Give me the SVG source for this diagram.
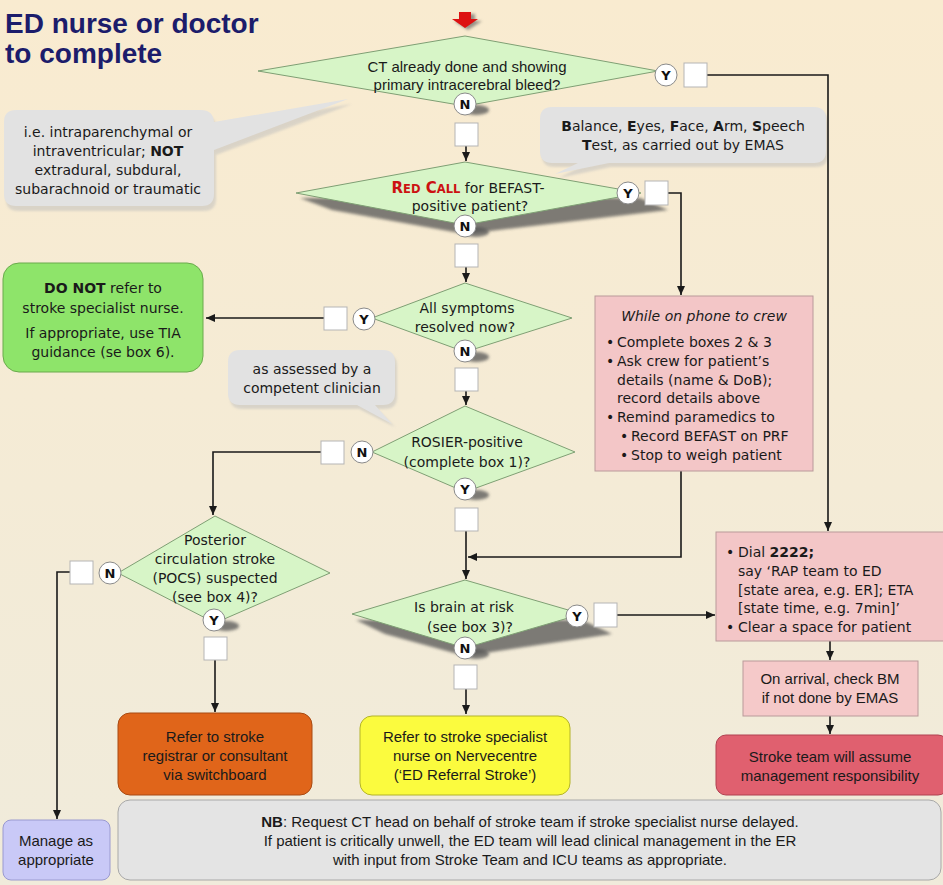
<svg xmlns="http://www.w3.org/2000/svg" width="943" height="885" viewBox="0 0 943 885">
<defs>
<linearGradient id="bg" x1="0" y1="0" x2="0" y2="1">
<stop offset="0" stop-color="#f9ebd0"/>
<stop offset="1" stop-color="#f0ebdb"/>
</linearGradient>
<marker id="ah" viewBox="0 0 9 8" refX="9" refY="4" markerWidth="9" markerHeight="8" markerUnits="userSpaceOnUse" orient="auto">
<path d="M0,0 L9,4 L0,8 z" fill="#1a1a1a"/>
</marker>
<filter id="blur" x="-20%" y="-50%" width="140%" height="200%"><feGaussianBlur stdDeviation="1.5"/></filter>
<filter id="soft" x="-10%" y="-10%" width="120%" height="130%"><feGaussianBlur stdDeviation="1.2"/></filter>
</defs>
<style>
.dia{fill:#d7f5c7;stroke:#7f9f74;stroke-width:1}
.sq{fill:#ffffff;stroke:#b5b5b5;stroke-width:1}
.cir{fill:#ffffff;stroke:#8a8a8a;stroke-width:1}
.yn{font-family:"DejaVu Sans",sans-serif;font-weight:bold;font-size:13px;fill:#111;text-anchor:middle}
.v{font-family:"DejaVu Sans",sans-serif;font-size:14px;fill:#1a1a1a}
.n{font-family:"Liberation Sans",Arial,sans-serif;font-size:15px;fill:#1a1a1a}
.c{text-anchor:middle}
.conn{stroke:#1a1a1a;stroke-width:1.6;fill:none}
.shd{fill:#555;opacity:0.75;filter:url(#blur)}
.call{fill:#e2e2e2}
.callshd{fill:#bdbdbd;opacity:0.5;filter:url(#soft)}
</style>
<rect x="0" y="0" width="943" height="885" fill="url(#bg)"/>

<g id="title">
<text x="5" y="33" font-family="Liberation Sans,Arial,sans-serif" font-weight="bold" font-size="28" fill="#1c1c6b">ED nurse or doctor</text>
<text x="5" y="63" font-family="Liberation Sans,Arial,sans-serif" font-weight="bold" font-size="28" fill="#1c1c6b">to complete</text>
</g>

<g id="start-arrow">
<path d="M461,14 h14 v7 h7 l-14,9 l-14,-9 h7 z" fill="#555" opacity="0.6" filter="url(#blur)"/>
<path d="M459,12 h12 v7 h7 l-13,9 l-13,-9 h7 z" fill="#dd1111"/>
</g>

<g id="callout-bleed">
<path d="M16,112 h185 q12,0 13,12 l0,0 L350,101 L214,152 v44 q0,12 -12,12 h-186 q-12,0 -12,-12 v-72 q0,-12 12,-12 z" class="callshd" transform="translate(2,3)"/>
<path d="M16,110 h185 q12,0 13,12 L348,99 L214,150 v44 q0,12 -12,12 h-186 q-12,0 -12,-12 v-72 q0,-12 12,-12 z" class="call"/>
<text class="v c" x="108" y="137">i.e. intraparenchymal or</text>
<text class="v c" x="108" y="156">intraventricular; <tspan font-weight="bold">NOT</tspan></text>
<text class="v c" x="108" y="175">extradural, subdural,</text>
<text class="v c" x="108" y="194">subarachnoid or traumatic</text>
</g>

<g id="callout-befast">
<path d="M552,109 h262 q12,0 12,12 v32 q0,12 -12,12 h-205 L557,176 L578,165 h-26 q-12,0 -12,-12 v-32 q0,-12 12,-12 z" class="callshd" transform="translate(2,2)"/>
<path d="M552,107 h262 q12,0 12,12 v32 q0,12 -12,12 h-205 L555,174 L578,163 h-26 q-12,0 -12,-12 v-32 q0,-12 12,-12 z" class="call"/>
<text class="v c" x="683" y="131"><tspan font-weight="bold">B</tspan>alance, <tspan font-weight="bold">E</tspan>yes, <tspan font-weight="bold">F</tspan>ace, <tspan font-weight="bold">A</tspan>rm, <tspan font-weight="bold">S</tspan>peech</text>
<text class="v c" x="683" y="150"><tspan font-weight="bold">T</tspan>est, as carried out by EMAS</text>
</g>

<g id="callout-clinician">
<path d="M240,352 h143 q12,0 12,12 v31 q0,12 -12,12 h-8 L393,425 L357,407 h-117 q-12,0 -12,-12 v-31 q0,-12 12,-12 z" class="callshd" transform="translate(2,2)"/>
<path d="M240,350 h143 q12,0 12,12 v31 q0,12 -12,12 h-8 L392,424 L357,405 h-117 q-12,0 -12,-12 v-31 q0,-12 12,-12 z" class="call"/>
<text class="v c" x="312" y="374">as assessed by a</text>
<text class="v c" x="312" y="393">competent clinician</text>
</g>

<g id="connectors">
<line class="conn" x1="466" y1="146" x2="466" y2="161" marker-end="url(#ah)"/>
<polyline class="conn" points="707,75 828,75 828,531" marker-end="url(#ah)"/>
<polyline class="conn" points="668,193 681,193 681,295" marker-end="url(#ah)"/>
<line class="conn" x1="466" y1="267" x2="466" y2="282" marker-end="url(#ah)"/>
<line class="conn" x1="324" y1="318" x2="206" y2="318" marker-end="url(#ah)"/>
<line class="conn" x1="466" y1="391" x2="466" y2="405" marker-end="url(#ah)"/>
<polyline class="conn" points="321,452 213,452 213,515" marker-end="url(#ah)"/>
<line class="conn" x1="466" y1="531" x2="466" y2="579" marker-end="url(#ah)"/>
<polyline class="conn" points="681,471 681,557 468,557" marker-end="url(#ah)"/>
<line class="conn" x1="617" y1="615" x2="715" y2="615" marker-end="url(#ah)"/>
<polyline class="conn" points="70,572 57,572 57,819" marker-end="url(#ah)"/>
<line class="conn" x1="215" y1="660" x2="215" y2="712" marker-end="url(#ah)"/>
<line class="conn" x1="466" y1="689" x2="466" y2="714" marker-end="url(#ah)"/>
<line class="conn" x1="830" y1="641" x2="830" y2="660" marker-end="url(#ah)"/>
<line class="conn" x1="830" y1="716" x2="830" y2="734" marker-end="url(#ah)"/>
</g>

<g id="d-ct">
<polygon class="dia" points="465,36 658,71 465,106 258,71"/>
<text class="n c" x="467" y="72" font-size="16">CT already done and showing</text>
<text class="n c" x="467" y="90" font-size="16">primary intracerebral bleed?</text>
<ellipse class="shd" cx="476" cy="110" rx="13" ry="5"/>
<circle class="cir" cx="465" cy="104" r="11"/><text class="yn" x="465" y="109">N</text>
<rect class="sq" x="455" y="123" width="23" height="23"/>
<circle class="cir" cx="666" cy="75" r="11"/><text class="yn" x="666" y="80">Y</text>
<rect class="sq" x="684" y="63" width="23" height="24"/>
</g>

<g id="d-redcall">
<polygon class="shd" points="300,198 332,210 465,234 668,210 640,198"/>
<polygon class="dia" points="465,162 641,193 465,225 296,193"/>
<text class="v c" x="468" y="193"><tspan font-weight="bold" fill="#cc1111" font-size="15">R</tspan><tspan font-weight="bold" fill="#cc1111" font-size="11.5">ED</tspan><tspan font-weight="bold" fill="#cc1111" font-size="15"> C</tspan><tspan font-weight="bold" fill="#cc1111" font-size="11.5">ALL</tspan> for BEFAST-</text>
<text class="v c" x="470" y="211">positive patient?</text>
<ellipse class="shd" cx="476" cy="232" rx="13" ry="5"/>
<circle class="cir" cx="465" cy="226" r="11"/><text class="yn" x="465" y="231">N</text>
<rect class="sq" x="455" y="244" width="23" height="23"/>
<circle class="cir" cx="628" cy="193" r="11"/><text class="yn" x="628" y="198">Y</text>
<rect class="sq" x="645" y="181" width="23" height="24"/>
</g>

<g id="d-resolved">
<polygon class="dia" points="465,283 572,318 465,352 372,318"/>
<text class="v c" x="467" y="313">All symptoms</text>
<text class="v c" x="465" y="332">resolved now?</text>
<ellipse class="shd" cx="476" cy="357" rx="13" ry="5"/>
<circle class="cir" cx="465" cy="351" r="11"/><text class="yn" x="465" y="356">N</text>
<rect class="sq" x="455" y="368" width="23" height="23"/>
<circle class="cir" cx="364" cy="319" r="11"/><text class="yn" x="364" y="324">Y</text>
<rect class="sq" x="324" y="307" width="23" height="23"/>
</g>

<g id="d-rosier">
<polygon class="dia" points="465,406 575,452 465,492 372,452"/>
<text class="v c" x="467" y="447">ROSIER-positive</text>
<text class="v c" x="467" y="467">(complete box 1)?</text>
<ellipse class="shd" cx="476" cy="495" rx="13" ry="5"/>
<circle class="cir" cx="465" cy="489" r="11"/><text class="yn" x="465" y="494">Y</text>
<rect class="sq" x="455" y="508" width="23" height="23"/>
<circle class="cir" cx="362" cy="452" r="11"/><text class="yn" x="362" y="457">N</text>
<rect class="sq" x="321" y="441" width="23" height="23"/>
</g>

<g id="d-brain">
<polygon class="shd" points="356,620 385,634 465,656 612,634 582,620"/>
<polygon class="dia" points="465,580 582,614 465,648 352,614"/>
<text class="v c" x="464" y="612">Is brain at risk</text>
<text class="v c" x="470" y="632">(see box 3)?</text>
<ellipse class="shd" cx="476" cy="654" rx="13" ry="5"/>
<circle class="cir" cx="465" cy="648" r="11"/><text class="yn" x="465" y="653">N</text>
<rect class="sq" x="454" y="665" width="23" height="24"/>
<circle class="cir" cx="577" cy="616" r="11"/><text class="yn" x="577" y="621">Y</text>
<rect class="sq" x="594" y="603" width="23" height="24"/>
</g>

<g id="d-pocs">
<polygon class="dia" points="215,516 330,573 215,623 118,573"/>
<text class="v c" x="215" y="545">Posterior</text>
<text class="v c" x="215" y="564">circulation stroke</text>
<text class="v c" x="215" y="583">(POCS) suspected</text>
<text class="v c" x="215" y="602">(see box 4)?</text>
<ellipse class="shd" cx="226" cy="626" rx="13" ry="5"/>
<circle class="cir" cx="214" cy="620" r="11"/><text class="yn" x="214" y="625">Y</text>
<rect class="sq" x="204" y="637" width="23" height="23"/>
<circle class="cir" cx="110" cy="573" r="11"/><text class="yn" x="110" y="578">N</text>
<rect class="sq" x="70" y="561" width="23" height="23"/>
</g>

<g id="box-donot">
<rect x="3" y="263" width="200" height="109" rx="16" fill="#8ee46a" stroke="#6aaa4c" stroke-width="1"/>
<text class="v c" x="103" y="293"><tspan font-weight="bold">DO NOT</tspan> refer to</text>
<text class="v c" x="103" y="313">stroke specialist nurse.</text>
<text class="v c" x="103" y="338">If appropriate, use TIA</text>
<text class="v c" x="103" y="357">guidance (se box 6).</text>
</g>

<g id="box-phone">
<rect x="595" y="296" width="218" height="175" fill="#f3c6c7" stroke="#b99a9a" stroke-width="1"/>
<text class="v c" x="704" y="321" font-style="italic">While on phone to crew</text>
<text class="v" x="606" y="347">•</text><text class="v" x="617" y="347">Complete boxes 2 &amp; 3</text>
<text class="v" x="606" y="366">•</text><text class="v" x="617" y="366">Ask crew for patient’s</text>
<text class="v" x="617" y="385">details (name &amp; DoB);</text>
<text class="v" x="617" y="403">record details above</text>
<text class="v" x="606" y="422">•</text><text class="v" x="617" y="422">Remind paramedics to</text>
<text class="v" x="620" y="441">•</text><text class="v" x="631" y="441">Record BEFAST on PRF</text>
<text class="v" x="620" y="460">•</text><text class="v" x="631" y="460">Stop to weigh patient</text>
</g>

<g id="box-dial">
<rect x="716" y="532" width="230" height="109" fill="#f3c6c7" stroke="#b99a9a" stroke-width="1"/>
<text class="v" x="726" y="557">•</text><text class="v" x="738" y="557">Dial <tspan font-weight="bold">2222;</tspan></text>
<text class="v" x="738" y="576">say ‘RAP team to ED</text>
<text class="v" x="738" y="595">[state area, e.g. ER]; ETA</text>
<text class="v" x="738" y="613">[state time, e.g. 7min]’</text>
<text class="v" x="726" y="632">•</text><text class="v" x="738" y="632">Clear a space for patient</text>
</g>

<g id="box-arrival">
<rect x="743" y="661" width="175" height="55" fill="#f5c9c9" stroke="#b99a9a" stroke-width="1"/>
<text class="n c" x="830" y="684">On arrival, check BM</text>
<text class="n c" x="830" y="703">if not done by EMAS</text>
</g>

<g id="box-stroketeam">
<rect x="716" y="735" width="232" height="60" rx="10" fill="#e0606f" stroke="#b04050" stroke-width="1"/>
<text class="n c" x="830" y="762">Stroke team will assume</text>
<text class="n c" x="830" y="781">management responsibility</text>
</g>

<g id="box-registrar">
<rect x="118" y="713" width="194" height="82" rx="12" fill="#e0651a" stroke="#a84a12" stroke-width="1"/>
<text class="n c" x="215" y="742">Refer to stroke</text>
<text class="n c" x="215" y="761">registrar or consultant</text>
<text class="n c" x="215" y="780">via switchboard</text>
</g>

<g id="box-nurse">
<rect x="360" y="716" width="210" height="79" rx="12" fill="#fbfb3e" stroke="#b3b32a" stroke-width="1"/>
<text class="n c" x="465" y="742">Refer to stroke specialist</text>
<text class="n c" x="465" y="761">nurse on Nervecentre</text>
<text class="n c" x="465" y="780">(‘ED Referral Stroke’)</text>
</g>

<g id="box-nb">
<rect x="118" y="800" width="823" height="80" rx="12" fill="#e4e4e4" stroke="#a8a8a8" stroke-width="1"/>
<text class="n c" x="530" y="827"><tspan font-weight="bold">NB</tspan>: Request CT head on behalf of stroke team if stroke specialist nurse delayed.</text>
<text class="n c" x="530" y="846">If patient is critically unwell, the ED team will lead clinical management in the ER</text>
<text class="n c" x="530" y="865">with input from Stroke Team and ICU teams as appropriate.</text>
</g>

<g id="box-manage">
<rect x="3" y="820" width="107" height="60" rx="8" fill="#c9c9f7" stroke="#9a9ad0" stroke-width="1"/>
<text class="n c" x="56" y="846">Manage as</text>
<text class="n c" x="56" y="865">appropriate</text>
</g>
</svg>
